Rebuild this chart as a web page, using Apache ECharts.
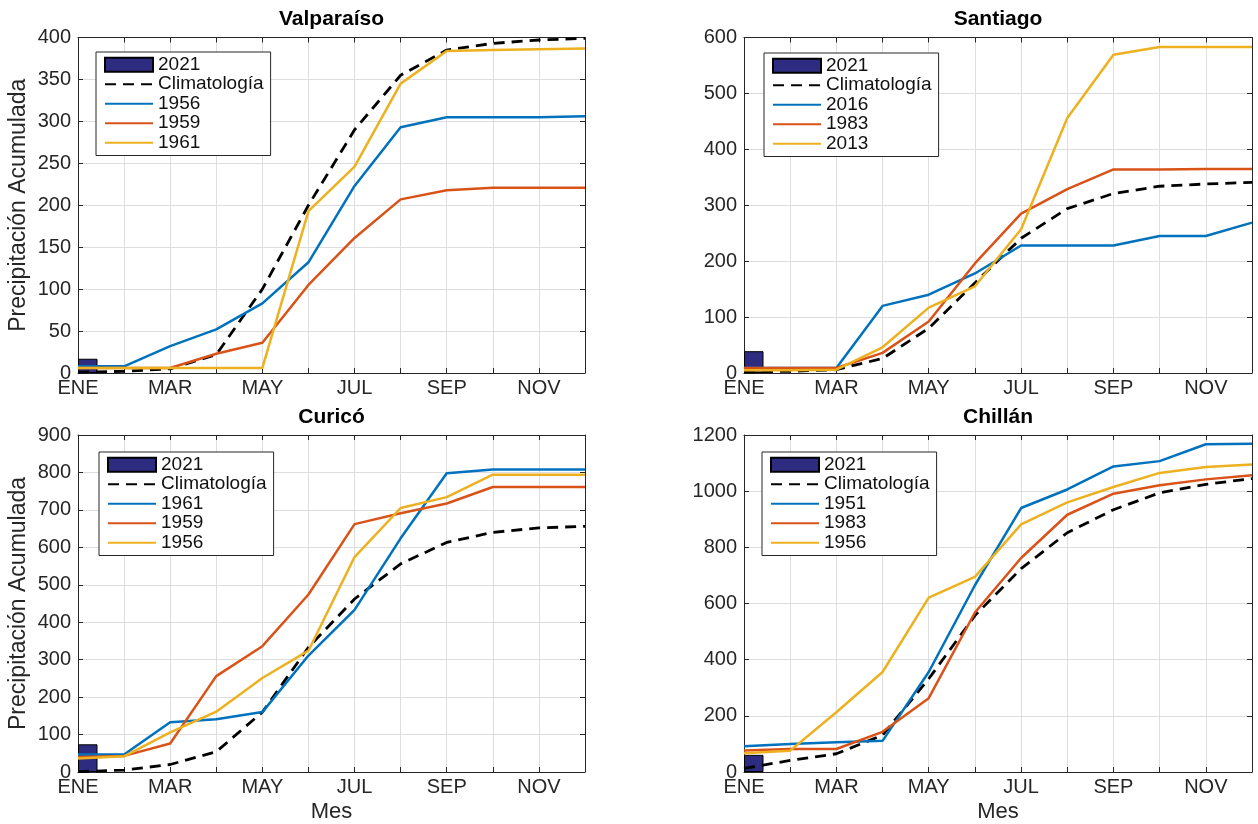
<!DOCTYPE html>
<html><head><meta charset="utf-8">
<script src="https://cdn.jsdelivr.net/npm/echarts/dist/echarts.min.js"></script>
<style>html,body{margin:0;padding:0;background:#fff}#c{width:1258px;height:824px}</style>
</head><body><div id="c"></div>
<script>
// ---- data ----
const months = ['ENE','FEB','MAR','ABR','MAY','JUN','JUL','AGO','SEP','OCT','NOV','DIC'];

const valp2021 = [17];
const valpClim = [1, 2, 5, 22, 100, 200, 290, 355, 385, 393, 397, 399];
const valp1956 = [8, 8, 32, 52, 83, 132, 223, 293, 305, 305, 305, 306];
const valp1959 = [6, 6, 6, 23, 36, 105, 161, 207, 218, 221, 221, 221];
const valp1961 = [6, 6, 6, 6, 6, 193, 246, 345, 384, 385, 386, 387];

const sant2021 = [39];
const santClim = [2, 3, 6, 26, 80, 161, 241, 294, 321, 334, 338, 341];
const sant2016 = [9, 9, 9, 120, 140, 178, 228, 228, 228, 245, 245, 269];
const sant1983 = [9, 9, 9, 36, 92, 196, 285, 329, 364, 364, 365, 365];
const sant2013 = [5, 5, 6, 46, 117, 155, 257, 456, 569, 583, 583, 583];

const curi2021 = [74];
const curiClim = [1, 5, 20, 54, 160, 333, 462, 556, 613, 640, 652, 656];
const curi1961 = [47, 47, 133, 141, 160, 311, 433, 624, 798, 808, 808, 808];
const curi1959 = [40, 43, 76, 256, 336, 474, 662, 691, 717, 761, 761, 761];
const curi1956 = [36, 42, 106, 161, 251, 324, 574, 705, 734, 794, 794, 794];

const chil2021 = [61];
const chilClim = [13, 41, 65, 131, 332, 557, 724, 852, 934, 994, 1024, 1045];
const chil1951 = [92, 100, 106, 111, 356, 665, 940, 1006, 1088, 1107, 1167, 1169];
const chil1983 = [77, 82, 82, 143, 263, 568, 762, 916, 991, 1021, 1042, 1057];
const chil1956 = [67, 76, 213, 356, 621, 695, 882, 960, 1015, 1065, 1086, 1095];

// ---- styles / layout ----
const FONT = "'Liberation Sans', Arial, Helvetica, sans-serif";
const AX = '#262626';
const GRIDC = '#dedede';
const COLORS = ['#0072BD', '#D95319', '#EDB120'];
const BARC = '#2d2c80';

const panels = [
  {id:'V', title:'Valparaíso', g:{left:78, top:37.5, width:507, height:335.5}, yMax:400, yInt:50,
   yName:'Precipitación Acumulada', xName:'', bar:valp2021, clim:valpClim,
   years:[['1956', valp1956], ['1959', valp1959], ['1961', valp1961]], lg:{left:96, top:52}},
  {id:'S', title:'Santiago', g:{left:744, top:37.5, width:508, height:335.5}, yMax:600, yInt:100,
   yName:'', xName:'', bar:sant2021, clim:santClim,
   years:[['2016', sant2016], ['1983', sant1983], ['2013', sant2013]], lg:{left:764, top:53}},
  {id:'C', title:'Curicó', g:{left:78, top:435, width:507, height:338}, yMax:900, yInt:100,
   yName:'Precipitación Acumulada', xName:'Mes', bar:curi2021, clim:curiClim,
   years:[['1961', curi1961], ['1959', curi1959], ['1956', curi1956]], lg:{left:99, top:452}},
  {id:'H', title:'Chillán', g:{left:744, top:435, width:508, height:338}, yMax:1200, yInt:200,
   yName:'', xName:'Mes', bar:chil2021, clim:chilClim,
   years:[['1951', chil1951], ['1983', chil1983], ['1956', chil1956]], lg:{left:762, top:452}}
];

const option = {
  animation: false,
  backgroundColor: '#fff',
  textStyle: {fontFamily: FONT},
  title: [], grid: [], xAxis: [], yAxis: [], legend: [], series: []
};

panels.forEach((p, i) => {
  const cx = p.g.left + p.g.width / 2;
  option.title.push({
    text: p.title, left: cx, top: p.g.top - 28.5, textAlign: 'center', padding: 0,
    textStyle: {fontSize: 21, fontWeight: 'bold', color: '#000', fontFamily: FONT}
  });
  option.grid.push(Object.assign({containLabel: false}, p.g));
  const tick = {show: true, inside: true, length: 5, interval: 0, lineStyle: {color: AX, width: 1}};
  const line = {show: true, onZero: false, lineStyle: {color: AX, width: 1}};
  option.xAxis.push({
    type: 'category', data: months, gridIndex: i, position: 'bottom', boundaryGap: false,
    axisLine: line, axisTick: tick,
    axisLabel: {interval: 1, fontSize: 20, color: AX, margin: 5, fontFamily: FONT},
    splitLine: {show: true, interval: 0, lineStyle: {color: GRIDC, width: 1}},
    name: p.xName, nameLocation: 'middle', nameGap: 29,
    nameTextStyle: {fontSize: 22, color: AX, fontFamily: FONT}
  });
  option.xAxis.push({
    type: 'category', data: months, gridIndex: i, position: 'top', boundaryGap: false,
    axisLine: line, axisTick: tick, axisLabel: {show: false}, splitLine: {show: false}
  });
  option.yAxis.push({
    type: 'value', gridIndex: i, position: 'left', min: 0, max: p.yMax, interval: p.yInt,
    axisLine: line, axisTick: tick,
    axisLabel: {fontSize: 20, color: AX, margin: 7, fontFamily: FONT, formatter: v => String(v)},
    splitLine: {show: true, lineStyle: {color: GRIDC, width: 1}},
    name: p.yName, nameLocation: 'middle', nameGap: 48,
    nameTextStyle: {fontSize: 23, color: AX, fontFamily: FONT}
  });
  option.yAxis.push({
    type: 'value', gridIndex: i, position: 'right', min: 0, max: p.yMax, interval: p.yInt,
    axisLine: line, axisTick: tick, axisLabel: {show: false}, splitLine: {show: false}
  });
  const xi = 2 * i, yi = 2 * i;
  const names = [];
  // invisible placeholder bar occupies the half left of the tick (outside the plot)
  option.series.push({
    name: p.id + '|pad', type: 'bar', xAxisIndex: xi, yAxisIndex: yi, data: ['-'],
    barWidth: 19.5, barGap: '0%', itemStyle: {color: 'rgba(0,0,0,0)'}
  });
  const barName = p.id + '|2021';
  names.push({name: barName, icon: 'rect'});
  option.series.push({
    name: barName, type: 'bar', xAxisIndex: xi, yAxisIndex: yi, data: p.bar,
    barWidth: 19.5, barGap: '0%',
    itemStyle: {color: BARC, borderColor: '#000', borderWidth: 1}
  });
  const climName = p.id + '|Climatología';
  names.push({name: climName, itemStyle: {opacity: 0, color: 'rgba(0,0,0,0)', borderWidth: 0}});
  option.series.push({
    name: climName, type: 'line', xAxisIndex: xi, yAxisIndex: yi, data: p.clim,
    symbol: 'none', z: 3,
    lineStyle: {color: '#000', width: 2.8, type: [11, 7]}, itemStyle: {color: '#000'}
  });
  p.years.forEach((y, k) => {
    const nm = p.id + '|' + y[0];
    names.push({name: nm, itemStyle: {opacity: 0, color: 'rgba(0,0,0,0)', borderWidth: 0}});
    option.series.push({
      name: nm, type: 'line', xAxisIndex: xi, yAxisIndex: yi, data: y[1],
      symbol: 'none', z: 4 + k,
      lineStyle: {color: COLORS[k], width: 2.5}, itemStyle: {color: COLORS[k]}
    });
  });
  option.legend.push({
    data: names, orient: 'vertical', left: p.lg.left, top: p.lg.top,
    itemWidth: 48, itemHeight: 14, itemGap: 0, selectedMode: false,
    padding: [3, 7, 3, 8], backgroundColor: '#fff', borderColor: AX, borderWidth: 1, borderRadius: 0,
    formatter: n => n.split('|')[1],
    textStyle: {fontSize: 19, lineHeight: 19.5, color: '#111', fontFamily: FONT, padding: [0, 0, 0, 0]}
  });
});

const chart = echarts.init(document.getElementById('c'), null, {renderer: 'canvas'});
chart.setOption(option);
</script></body></html>
